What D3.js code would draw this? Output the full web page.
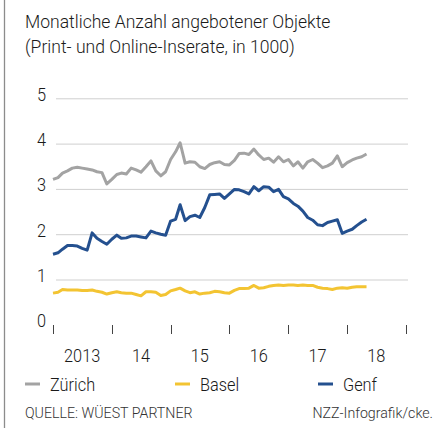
<!DOCTYPE html>
<html>
<head>
<meta charset="utf-8">
<script src="https://cdn.jsdelivr.net/npm/d3@7"></script>
<style>
  html, body { margin: 0; padding: 0; background: #fff; }
  svg { display: block; }
  text { font-family: "Roboto", "DejaVu Sans Condensed", sans-serif; font-weight: 300; fill: #1a1a1a; }
</style>
</head>
<body>
<div id="chart"></div>
<script>
// Monatliche Werte Jan 2013 – Mai 2018 (in 1000)
const zuerich = [3.22,3.26,3.36,3.41,3.47,3.49,3.47,3.45,3.43,3.39,3.37,3.12,
  3.22,3.33,3.36,3.34,3.47,3.43,3.38,3.50,3.63,3.41,3.30,3.39,
  3.66,3.83,4.03,3.58,3.61,3.60,3.50,3.46,3.55,3.59,3.61,3.55,
  3.54,3.64,3.79,3.80,3.77,3.89,3.76,3.66,3.69,3.60,3.72,3.61,
  3.66,3.52,3.61,3.47,3.61,3.66,3.58,3.48,3.52,3.58,3.74,3.50,
  3.59,3.65,3.69,3.72,3.78];
const basel = [0.71,0.73,0.79,0.78,0.78,0.78,0.77,0.77,0.78,0.75,0.73,0.69,
  0.72,0.74,0.72,0.71,0.71,0.68,0.65,0.74,0.74,0.73,0.66,0.68,
  0.76,0.79,0.82,0.76,0.72,0.74,0.69,0.71,0.72,0.75,0.74,0.72,
  0.71,0.77,0.81,0.81,0.82,0.88,0.82,0.83,0.86,0.88,0.89,0.88,
  0.89,0.89,0.88,0.89,0.88,0.88,0.84,0.82,0.81,0.79,0.82,0.83,
  0.82,0.84,0.85,0.85,0.85];
const genf = [1.57,1.60,1.68,1.76,1.76,1.75,1.70,1.66,2.04,1.92,1.85,1.79,
  1.90,1.99,1.92,1.93,1.97,1.97,1.95,1.93,2.08,2.04,2.01,1.99,
  2.30,2.34,2.66,2.31,2.40,2.43,2.38,2.60,2.88,2.89,2.90,2.80,
  2.90,3.00,2.99,2.95,2.90,3.06,2.97,3.06,3.05,2.95,3.00,2.84,
  2.79,2.69,2.63,2.52,2.38,2.32,2.22,2.20,2.27,2.30,2.33,2.03,
  2.08,2.12,2.20,2.28,2.34];

const yearLabels = ["2013", "14", "15", "16", "17", "18"];
const yTicks = [0, 1, 2, 3, 4, 5];

const series = [
  { name: "Zürich", values: zuerich, color: "#a3a3a3", lx: 25 },
  { name: "Basel", values: basel, color: "#f3c432", lx: 175 },
  { name: "Genf", values: genf, color: "#24508f", lx: 318 }
];

const W = 445, H = 428;
const svg = d3.select("#chart").append("svg")
  .attr("width", W)
  .attr("height", H);

// linker Rand
svg.append("line")
  .attr("x1", 4.5).attr("x2", 4.5)
  .attr("y1", 0).attr("y2", H)
  .attr("stroke", "#8c8c8c")
  .attr("stroke-width", 1.3);

// schmale Schrift nachbilden: horizontal gestaucht
function narrow(sel, x0, y0, sx) {
  return sel.attr("transform", `translate(${x0},${y0}) scale(${sx},1)`);
}

// Titel
narrow(svg.append("text"), 25, 28, 0.95)
  .style("font-size", "18.5px")
  .text("Monatliche Anzahl angebotener Objekte");
narrow(svg.append("text"), 25, 53, 0.95)
  .style("font-size", "18.5px")
  .text("(Print- und Online-Inserate, in 1000)");

// Skalen
const start = new Date(2013, 0, 1);
const x = d3.scaleTime()
  .domain([start, new Date(2019, 0, 1)])
  .range([53, 406]);
const y = d3.scaleLinear()
  .domain([0, 5])
  .range([325.3, 98.8]);

const months = d3.range(zuerich.length).map(i => d3.timeMonth.offset(start, i));

// Gitterlinien
svg.append("g")
  .selectAll("line")
  .data(yTicks.filter(d => d > 0))
  .join("line")
  .attr("x1", 56).attr("x2", 408)
  .attr("y1", d => y(d)).attr("y2", d => y(d))
  .attr("stroke", "#cfcfcf")
  .attr("stroke-width", 1);

// Y-Beschriftung
svg.append("g")
  .selectAll("text")
  .data(yTicks)
  .join("text")
  .attr("transform", d => `translate(46,${y(d) + 2}) scale(0.86,1)`)
  .attr("text-anchor", "end")
  .style("font-size", "19px")
  .text(d => d);

// X-Achse: Ticks an Jahresgrenzen, Labels in der Jahresmitte
const years = d3.timeYear.range(start, new Date(2019, 0, 2));
svg.append("g")
  .selectAll("line")
  .data(years)
  .join("line")
  .attr("x1", d => Math.round(x(d)) + 0.5).attr("x2", d => Math.round(x(d)) + 0.5)
  .attr("y1", 325).attr("y2", 334)
  .attr("stroke", "#444")
  .attr("stroke-width", 1);

svg.append("g")
  .selectAll("text")
  .data(yearLabels)
  .join("text")
  .attr("transform", (d, i) => `translate(${x(new Date(2013 + i, 6, 1))},362) scale(0.86,1)`)
  .attr("text-anchor", "middle")
  .style("font-size", "19px")
  .text(d => d);

// Linien
const line = d3.line()
  .x((d, i) => x(months[i]))
  .y(d => y(d));

svg.append("g")
  .selectAll("path")
  .data(series)
  .join("path")
  .attr("d", d => line(d.values))
  .attr("fill", "none")
  .attr("stroke", d => d.color)
  .attr("stroke-width", 3)
  .attr("stroke-linejoin", "round");

// Legende
const leg = svg.append("g")
  .selectAll("g")
  .data(series)
  .join("g");
leg.append("line")
  .attr("x1", d => d.lx).attr("x2", d => d.lx + 15)
  .attr("y1", 384).attr("y2", 384)
  .attr("stroke", d => d.color)
  .attr("stroke-width", 3);
leg.append("text")
  .attr("transform", d => `translate(${d.lx + 25},391) scale(0.86,1)`)
  .style("font-size", "19px")
  .text(d => d.name);

// Quelle
narrow(svg.append("text"), 25, 418, 0.98)
  .style("font-size", "14.5px")
  .style("fill", "#333")
  .text("QUELLE: WÜEST PARTNER");
narrow(svg.append("text"), 433, 418, 0.98)
  .attr("text-anchor", "end")
  .style("font-size", "14.5px")
  .style("fill", "#333")
  .text("NZZ-Infografik/cke.");
</script>
</body>
</html>
